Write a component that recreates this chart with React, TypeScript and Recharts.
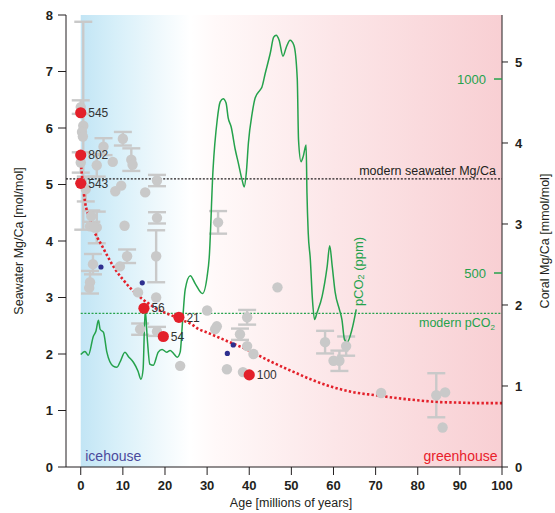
import React from 'react';
import {
  ComposedChart, XAxis, YAxis, Line, Scatter, ErrorBar, ReferenceLine,
  ReferenceArea, ReferenceDot, LabelList,
} from 'recharts';

// ---- tick labels ----
const xTicks = [0, 10, 20, 30, 40, 50, 60, 70, 80, 90, 100];
const leftTicks = [0, 1, 2, 3, 4, 5, 6, 7, 8];
const coralTicks = [0, 1, 2, 3, 4, 5];
const co2Ticks = [500, 1000];

// ---- fitted seawater Mg/Ca curve (red dotted) ----
const fitAge = [0, 1, 2, 3, 4, 5, 6, 8, 10, 12, 14, 16, 18, 20, 22, 24, 26, 28, 30, 35, 40, 45, 50, 55, 60, 65, 70, 75, 80, 85, 90, 95, 100];
const fitMgCa = [5.4, 4.7, 4.42, 4.2, 4.05, 3.92, 3.78, 3.52, 3.32, 3.15, 3.01, 2.9, 2.8, 2.73, 2.67, 2.6, 2.54, 2.44, 2.38, 2.22, 2.06, 1.87, 1.7, 1.54, 1.41, 1.32, 1.27, 1.22, 1.18, 1.15, 1.14, 1.13, 1.13];

// ---- pCO2 (ppm) green curve ----
const co2Age = [0, 1, 1.8, 3, 3.6, 4.2, 4.6, 5.4, 6.2, 7.7, 8.6, 9.3, 10.5, 11.3, 12.5, 13.6, 14.3, 14.8, 15.3, 15.8, 16.4, 17.2, 18.4, 19.3, 20.4, 21.2, 22, 22.9, 23.6, 24.2, 24.8, 26, 27.2, 28.9, 30, 30.5, 31.4, 32.4, 33.1, 33.8, 34.5, 35, 35.7, 36.7, 37.4, 38.3, 38.8, 39.3, 39.8, 40.7, 41.4, 42.6, 43, 43.8, 45, 45.8, 46.4, 47.1, 48, 48.8, 49.7, 50.6, 51.4, 51.7, 52.3, 52.8, 53.5, 53.7, 54, 54.5, 55, 55.5, 56.1, 57.3, 58.5, 59.1, 59.7, 60.4, 61.4, 62, 62.6, 63.2, 64.4, 65.4];
const co2Ppm = [290, 298, 288, 337, 350, 378, 355, 347, 296, 260, 257, 270, 296, 285, 270, 247, 226, 252, 405, 330, 265, 262, 296, 303, 296, 300, 293, 283, 296, 380, 458, 493, 472, 447, 491, 540, 766, 895, 941, 949, 938, 900, 877, 817, 784, 740, 722, 758, 835, 912, 951, 972, 979, 1015, 1067, 1108, 1113, 1100, 1059, 1082, 1100, 1087, 1000, 843, 787, 800, 830, 707, 604, 535, 432, 380, 398, 440, 517, 570, 517, 450, 406, 380, 329, 321, 355, 406];

// ---- grey data points with error bars ----
const greyErrAge = [0, 0.6, 0, 1.2, 2.5, 3.8, 2.9, 2.2, 5.4, 3.8, 10, 12, 18.1, 18.1, 17.9, 11, 14.1, 18.1, 32.6, 39.5, 37.8, 58, 61.4, 63, 84.4];
const greyErrVal = [6.37, 6.04, 5.39, 4.92, 4.44, 4.24, 3.59, 3.27, 5.67, 5.34, 5.81, 5.44, 5.07, 4.41, 3.73, 3.73, 2.44, 2.4, 4.33, 2.65, 2.35, 2.21, 1.88, 2.14, 1.27];
const greyErrErr = [0.12, 1.84, 0.18, 0.22, 0.1, 0.28, 0.18, 0.2, 0.15, 0.2, 0.12, 0.2, 0.1, 0.1, 0.46, 0.12, 0.1, 0.08, 0.2, 0.13, 0.1, 0.2, 0.18, 0.17, 0.39];

// ---- grey data points without error bars ----
const greyAge = [0.3, 0.5, 2.2, 3.2, 2.0, 7.6, 12.3, 8.2, 9.6, 15.3, 10.4, 9.3, 13.6, 17.9, 23.6, 46.7, 30, 32.3, 31.9, 39.5, 41, 34.7, 38.5, 60, 71.3, 86.5, 85.9];
const greyVal = [5.93, 5.85, 4.26, 4.24, 3.17, 5.4, 5.35, 4.88, 4.98, 4.86, 4.27, 3.55, 3.09, 3.0, 1.79, 3.18, 2.77, 2.49, 2.44, 2.14, 2.0, 1.73, 1.68, 1.88, 1.31, 1.32, 0.7];

// ---- blue small points ----
const blueAge = [4.8, 14.6, 36.2, 34.8];
const blueVal = [3.54, 3.26, 2.16, 2.01];

// ---- red labelled points ----
const redAge = [0, 0, 0, 15.0, 23.3, 19.6, 40];
const redVal = [6.27, 5.52, 5.02, 2.81, 2.65, 2.31, 1.63];
const redLabel = ['545', '802', '543', '56', '21', '54', '100'];

const MODERN_MGCA = 5.1;
const MODERN_CO2 = 396;

const fitData = fitAge.map((a, i) => ({ age: a, mg: fitMgCa[i] }));
const co2Data = co2Age.map((a, i) => ({ age: a, ppm: co2Ppm[i] }));
const greyErrData = greyErrAge.map((a, i) => ({ age: a, val: greyErrVal[i], err: greyErrErr[i] }));
const greyData = greyAge.map((a, i) => ({ age: a, val: greyVal[i] }));
const blueData = blueAge.map((a, i) => ({ age: a, val: blueVal[i] }));
const redData = redAge.map((a, i) => ({ age: a, val: redVal[i], label: redLabel[i] }));

const GREY = '#c9c9c9';
const RED = '#e3202a';
const GREEN = '#25a24c';
const NAVY = '#2e2f8f';
const INK = '#231f20';
const FONT = '"Liberation Sans", Arial, Helvetica, sans-serif';

const greyShape = (p: any) => <circle cx={p.cx} cy={p.cy} r={5.2} fill={GREY} />;
const redShape = (p: any) => <circle cx={p.cx} cy={p.cy} r={5.6} fill={RED} />;
const blueShape = (p: any) => <circle cx={p.cx} cy={p.cy} r={2.6} fill={NAVY} />;

const BgLabel = (props: any) => {
  const { x, y, width, height } = props.viewBox;
  return (
    <g>
      <text x={x + 4.5} y={y + height - 6.5} fill="#4b4a9c" fontSize={14} fontFamily={FONT}>icehouse</text>
      <text x={x + width - 4.5} y={y + height - 6.5} fill="#e8202a" fontSize={14} fontFamily={FONT} textAnchor="end">greenhouse</text>
    </g>
  );
};

const SeawaterLabel = (props: any) => {
  const { x, y, width } = props.viewBox;
  return (
    <text x={x + width - 6} y={y - 3.5} fill={INK} fontSize={12.5} fontFamily={FONT} textAnchor="end">modern seawater Mg/Ca</text>
  );
};

const Co2Label = (props: any) => {
  const { x, y, width } = props.viewBox;
  return (
    <text x={x + width - 7} y={y + 13.5} fill={GREEN} fontSize={12.5} fontFamily={FONT} textAnchor="end">
      modern pCO<tspan fontSize={8} dy={3}>2</tspan>
    </text>
  );
};

const VertCo2Label = (props: any) => {
  const { x, y, width, height } = props.viewBox;
  const cx = x + width / 2;
  const cy = y + height / 2;
  return (
    <text x={cx} y={cy} fill={GREEN} fontSize={13} fontFamily={FONT} textAnchor="middle" dominantBaseline="central" transform={`rotate(-90, ${cx}, ${cy})`}>
      pCO<tspan fontSize={9} dy={3}>2</tspan><tspan dy={-3}> (ppm)</tspan>
    </text>
  );
};

export default function App() {
  return (
    <div style={{ position: 'absolute', left: 0, top: 0, fontFamily: FONT }}>
      <ComposedChart width={555} height={513} margin={{ top: 15, right: 0, bottom: 0, left: 0 }}>
        <defs>
          <linearGradient id="bgGrad" x1="0" y1="0" x2="1" y2="0">
            <stop offset="0%" stopColor="#c2e5f5" />
            <stop offset="8%" stopColor="#d6eff9" />
            <stop offset="18%" stopColor="#eef8fc" />
            <stop offset="26%" stopColor="#ffffff" />
            <stop offset="32%" stopColor="#fff9f9" />
            <stop offset="60%" stopColor="#fce6e8" />
            <stop offset="100%" stopColor="#f8cfd3" />
          </linearGradient>
        </defs>
        <XAxis
          dataKey="age" type="number" domain={[-3.5, 100]} ticks={xTicks} allowDataOverflow
          height={46} tickSize={8} tickMargin={6}
          tick={{ fill: INK, fontSize: 13, fontWeight: 'bold' }}
          axisLine={{ stroke: INK }} tickLine={{ stroke: INK }}
          label={{ value: 'Age [millions of years]', position: 'insideBottom', offset: 6, dx: 7, fill: INK, fontSize: 12.5 }}
        />
        <YAxis
          yAxisId="left" type="number" domain={[0, 8]} ticks={leftTicks} allowDataOverflow
          width={66} tickSize={8} tickMargin={5}
          tick={{ fill: INK, fontSize: 13, fontWeight: 'bold' }}
          axisLine={{ stroke: INK }} tickLine={{ stroke: INK }}
          label={{ value: 'Seawater Mg/Ca [mol/mol]', angle: -90, position: 'insideLeft', offset: 19, fill: INK, fontSize: 12.5, style: { textAnchor: 'middle' } }}
        />
        <YAxis
          yAxisId="coral" orientation="right" type="number" domain={[0, 5.58]} ticks={coralTicks} allowDataOverflow
          width={53} tickSize={6} tickMargin={7}
          tick={{ fill: INK, fontSize: 13, fontWeight: 'bold' }}
          axisLine={{ stroke: INK }} tickLine={{ stroke: INK }}
          label={{ value: 'Coral Mg/Ca [mmol/mol]', angle: -90, position: 'insideRight', offset: 10, fill: INK, fontSize: 12.5, style: { textAnchor: 'middle' } }}
        />
        <YAxis
          yAxisId="co2" orientation="right" mirror type="number" domain={[0, 1165]} ticks={co2Ticks} allowDataOverflow
          width={60} tickSize={8} tickMargin={8} axisLine={false}
          tick={{ fill: GREEN, fontSize: 13 }} tickLine={{ stroke: GREEN, strokeWidth: 1.5 }}
        />

        <ReferenceArea yAxisId="left" x1={0} x2={100} y1={0} y2={8} fill="url(#bgGrad)" fillOpacity={1} stroke="none" ifOverflow="extendDomain" label={<BgLabel />} />

        <ReferenceLine yAxisId="left" y={MODERN_MGCA} stroke={INK} strokeWidth={1.2} strokeDasharray="2 1.6" label={<SeawaterLabel />} />
        <ReferenceLine yAxisId="co2" segment={[{ x: 0, y: MODERN_CO2 }, { x: 100, y: MODERN_CO2 }]} stroke={GREEN} strokeWidth={1.3} strokeDasharray="2 1.6" label={<Co2Label />} />

        <Scatter yAxisId="left" data={greyErrData} dataKey="val" shape={greyShape} isAnimationActive={false}>
          <ErrorBar dataKey="err" direction="y" width={9} strokeWidth={2.4} stroke={GREY} />
        </Scatter>
        <Scatter yAxisId="left" data={greyData} dataKey="val" shape={greyShape} isAnimationActive={false} />

        <Line yAxisId="co2" data={co2Data} dataKey="ppm" type="monotone" stroke={GREEN} strokeWidth={1.5} dot={false} activeDot={false} isAnimationActive={false} />

        <Line yAxisId="left" data={fitData} dataKey="mg" type="monotone" stroke={RED} strokeWidth={2.6} strokeDasharray="2.4 2.2" dot={false} activeDot={false} isAnimationActive={false} />

        <Scatter yAxisId="left" data={redData} dataKey="val" shape={redShape} isAnimationActive={false}>
          <LabelList dataKey="label" position="right" offset={3} fill="#333333" fontSize={12} />
        </Scatter>
        <Scatter yAxisId="left" data={blueData} dataKey="val" shape={blueShape} isAnimationActive={false} />

        <ReferenceDot yAxisId="co2" x={65.9} y={504} r={0} fill="none" stroke="none" label={<VertCo2Label />} />
      </ComposedChart>
    </div>
  );
}
